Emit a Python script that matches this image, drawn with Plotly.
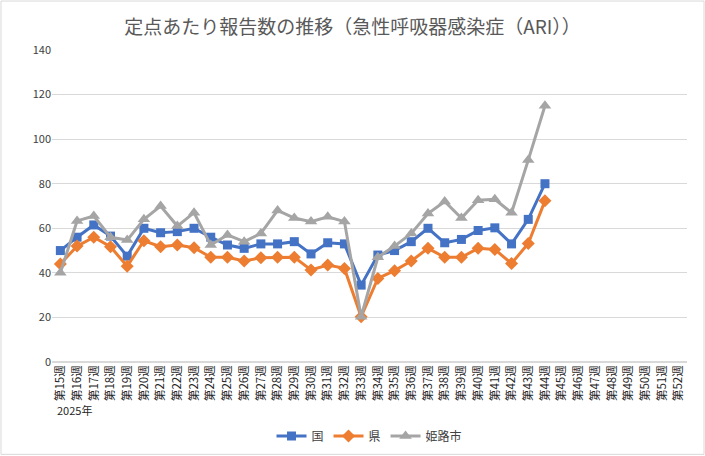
import plotly.graph_objects as go

# 週ラベル（第15週〜第52週）
weeks = ["第%d週" % w for w in range(15, 53)]

# 国
kuni = [50, 56, 61.5, 56.5, 47.5, 60, 58, 58.5, 60, 56, 52.5, 51, 53, 53, 54,
        48.5, 53.5, 53, 34.5, 48, 50, 54, 60, 53.5, 55, 59, 60.2, 53, 64, 80]
# 県
ken = [44, 52, 56, 51.7, 43, 54.4, 51.7, 52.5, 51.3, 47, 47, 45.3, 46.8, 47, 47,
       41.3, 43.5, 42, 20.3, 37.5, 41, 45.3, 51, 47, 47, 51, 50.5, 44.2, 53.2, 72.3]
# 姫路市
himeji = [40, 63.3, 65.5, 56, 54.7, 64, 70, 61, 67, 52.5, 57, 54, 57.7, 68, 64.6,
          63, 65.2, 63, 20.3, 47, 52, 57.7, 66.6, 72, 64.6, 72.6, 73, 67, 90.6, 115]

y_ticks = [0, 20, 40, 60, 80, 100, 120, 140]

font_jp = "Noto Sans CJK JP"


def pad(vals):
    # 未来の週は空欄
    return vals + [None] * (len(weeks) - len(vals))


fig = go.Figure()

fig.add_scatter(x=weeks, y=pad(kuni), mode="lines+markers", name="国",
                line=dict(color="#4472C4", width=3),
                marker=dict(symbol="square", size=9, color="#4472C4"))
fig.add_scatter(x=weeks, y=pad(ken), mode="lines+markers", name="県",
                line=dict(color="#ED7D31", width=3),
                marker=dict(symbol="diamond", size=10, color="#ED7D31"))
fig.add_scatter(x=weeks, y=pad(himeji), mode="lines+markers", name="姫路市",
                line=dict(color="#A5A5A5", width=3),
                marker=dict(symbol="triangle-up", size=11, color="#A5A5A5"))

# 外枠
fig.add_shape(type="rect", xref="paper", yref="paper",
              x0=-0.0803, x1=1.0268, y0=-0.296, y1=1.157,
              line=dict(color="#D9D9D9", width=1), layer="below")

fig.add_annotation(text="2025年", xref="paper", yref="paper",
                   x=0.004, y=-0.154, xanchor="left", yanchor="middle",
                   showarrow=False, font=dict(size=11, color="#262626"))

fig.update_layout(
    width=705, height=456,
    margin=dict(l=52, r=18, t=50, b=94),
    paper_bgcolor="white", plot_bgcolor="white",
    font=dict(family=font_jp, size=11, color="#404040"),
    title=dict(text="定点あたり報告数の推移（急性呼吸器感染症（ARI））",
               x=0.5, xanchor="center", y=0.94, yanchor="middle",
               font=dict(size=19, color="#595959")),
    xaxis=dict(type="category", categoryorder="array", categoryarray=weeks,
               range=[-0.5, len(weeks) - 0.5],
               tickangle=-90, showgrid=False, showline=False, ticks="",
               tickfont=dict(size=11.5, color="#262626"), automargin=False),
    yaxis=dict(range=[0, 140], tickvals=y_ticks, showgrid=True,
               gridcolor="#D9D9D9", gridwidth=1, zeroline=True,
               zerolinecolor="#D9D9D9", showline=False, ticks="",
               tickfont=dict(size=11, color="#404040"), automargin=False),
    legend=dict(orientation="h", x=0.5, xanchor="center",
                yref="container", y=0.044, yanchor="middle", itemwidth=30,
                font=dict(size=12, color="#404040")),
    showlegend=True,
)

fig.write_html("out.html", config={"displayModeBar": False},
               post_script="document.body.style.margin='0';")
